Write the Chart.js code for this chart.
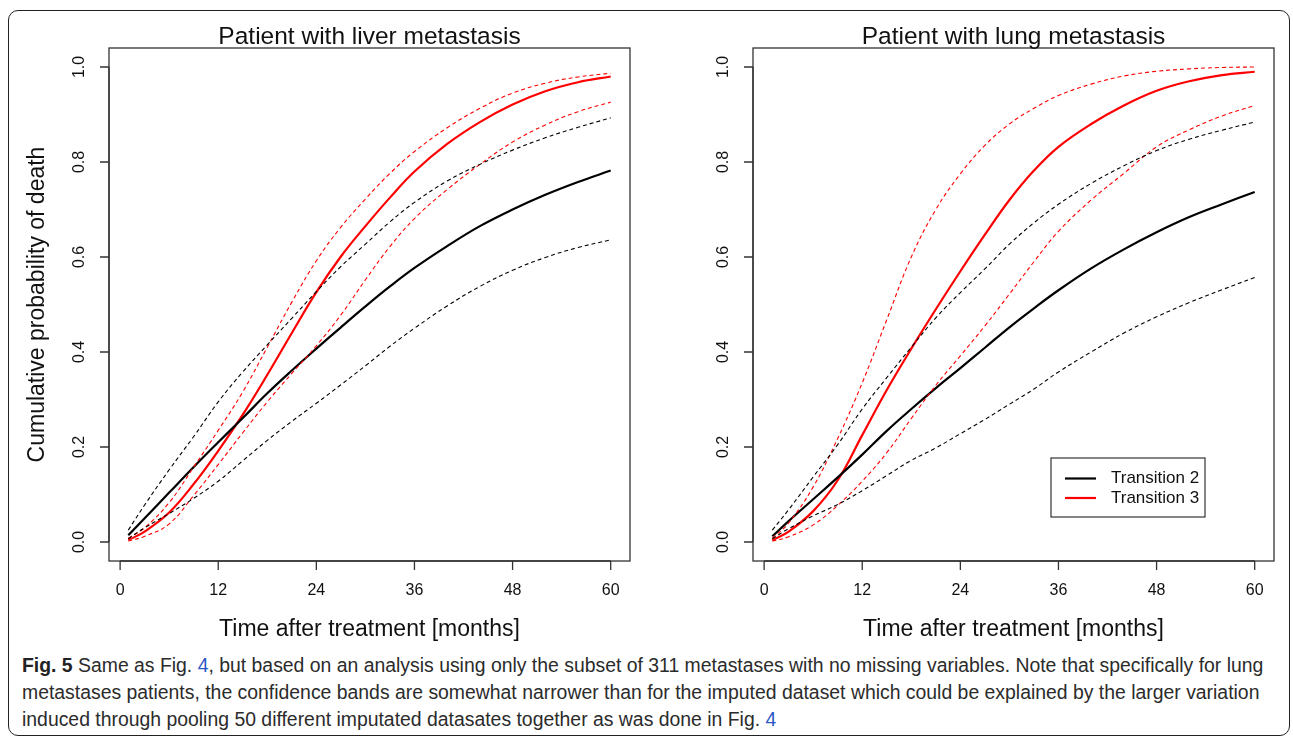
<!DOCTYPE html>
<html>
<head>
<meta charset="utf-8">
<script src="https://cdn.jsdelivr.net/npm/chart.js@4.4.1/dist/chart.umd.min.js"></script>
<style>
  body { margin: 0; background: #fff; width: 1293px; height: 738px; overflow: hidden; position: relative; }
  #frame { position: absolute; left: 8px; top: 10px; width: 1282px; height: 726px; box-sizing: border-box;
           border: 1.5px solid #222; border-radius: 10px; }
  canvas { position: absolute; top: 0; }
  #liverChart { left: 0; }
  #lungChart { left: 646px; }
  #caption { position: absolute; left: 22px; top: 652px; white-space: nowrap; color: #2b2b2b;
             font-family: "Liberation Sans", sans-serif; font-size: 19.4px; line-height: 27px; }
  #caption b { color: #222; }
  #caption .ref { color: #2a56c6; }
</style>
</head>
<body>
<div id="frame"></div>
<canvas id="liverChart" width="646" height="650"></canvas>
<canvas id="lungChart" width="647" height="650"></canvas>
<div id="caption"><b>Fig. 5</b> Same as Fig. <span class="ref">4</span>, but based on an analysis using only the subset of 311 metastases with no missing variables. Note that specifically for lung<br>metastases patients, the confidence bands are somewhat narrower than for the imputed dataset which could be explained by the larger variation<br>induced through pooling 50 different imputated datasates together as was done in Fig. <span class="ref">4</span></div>
<script>
// months after treatment
const months = [1, 3, 6, 9, 12, 15, 18, 21, 24, 27, 30, 33, 36, 40, 44, 48, 52, 56, 60];
const xTicks = [0, 12, 24, 36, 48, 60];
const yTicks = [0, 0.2, 0.4, 0.6, 0.8, 1.0];
const seriesNames = ["Transition 2", "Transition 3"];

// liver metastasis
const liverT2   = [0.014, 0.050, 0.104, 0.158, 0.210, 0.261, 0.313, 0.361, 0.407, 0.452, 0.496, 0.538, 0.577, 0.623, 0.665, 0.700, 0.731, 0.758, 0.782];
const liverT2Lo = [0.007, 0.030, 0.060, 0.092, 0.128, 0.171, 0.214, 0.254, 0.292, 0.331, 0.371, 0.412, 0.450, 0.497, 0.538, 0.572, 0.599, 0.620, 0.636];
const liverT2Hi = [0.025, 0.078, 0.152, 0.222, 0.295, 0.358, 0.415, 0.471, 0.527, 0.580, 0.627, 0.674, 0.715, 0.760, 0.795, 0.825, 0.851, 0.873, 0.893];
const liverT3   = [0.004, 0.022, 0.062, 0.122, 0.192, 0.268, 0.352, 0.440, 0.526, 0.601, 0.665, 0.725, 0.780, 0.838, 0.884, 0.921, 0.949, 0.968, 0.980];
const liverT3Lo = [0.002, 0.012, 0.038, 0.098, 0.163, 0.230, 0.295, 0.355, 0.413, 0.478, 0.552, 0.622, 0.681, 0.742, 0.795, 0.842, 0.878, 0.906, 0.926];
const liverT3Hi = [0.008, 0.030, 0.083, 0.158, 0.235, 0.316, 0.410, 0.505, 0.592, 0.663, 0.722, 0.776, 0.822, 0.872, 0.913, 0.945, 0.966, 0.979, 0.987];

// lung metastasis
const lungT2   = [0.012, 0.044, 0.090, 0.136, 0.184, 0.234, 0.280, 0.324, 0.366, 0.409, 0.452, 0.492, 0.530, 0.576, 0.616, 0.652, 0.684, 0.711, 0.737];
const lungT2Lo = [0.007, 0.028, 0.055, 0.079, 0.108, 0.140, 0.172, 0.198, 0.228, 0.258, 0.290, 0.322, 0.358, 0.400, 0.440, 0.474, 0.504, 0.531, 0.557];
const lungT2Hi = [0.025, 0.068, 0.137, 0.205, 0.280, 0.346, 0.410, 0.472, 0.525, 0.575, 0.627, 0.672, 0.711, 0.755, 0.792, 0.824, 0.848, 0.867, 0.884];
const lungT3   = [0.004, 0.022, 0.065, 0.130, 0.225, 0.320, 0.407, 0.490, 0.570, 0.647, 0.720, 0.782, 0.832, 0.880, 0.919, 0.950, 0.970, 0.983, 0.990];
const lungT3Lo = [0.002, 0.011, 0.036, 0.077, 0.128, 0.188, 0.260, 0.330, 0.392, 0.455, 0.522, 0.590, 0.654, 0.720, 0.776, 0.832, 0.868, 0.897, 0.919];
const lungT3Hi = [0.008, 0.040, 0.116, 0.218, 0.335, 0.468, 0.600, 0.700, 0.775, 0.835, 0.880, 0.913, 0.940, 0.964, 0.981, 0.991, 0.996, 0.999, 1.000];

const BLACK = "#000000";
const RED = "#ff0000";
const FONT = '"Liberation Sans", Arial, sans-serif';

function line(values, color, dashed, label) {
  return {
    label: label,
    data: months.map((m, i) => ({ x: m, y: values[i] })),
    borderColor: color,
    borderWidth: dashed ? 1.1 : 2.2,
    borderDash: dashed ? [4, 3] : [],
    pointRadius: 0,
    tension: 0.4,
    fill: false,
  };
}

// R-style box, axes, titles and legend
const rPlot = {
  id: "rPlot",
  afterDraw(chart, args, opts) {
    const ctx = chart.ctx;
    const a = chart.chartArea;
    const xs = chart.scales.x, ys = chart.scales.y;
    ctx.save();
    ctx.strokeStyle = "#333";
    ctx.fillStyle = "#111";
    ctx.lineWidth = 1.3;
    ctx.strokeRect(a.left, a.top, a.right - a.left, a.bottom - a.top);

    // x axis
    ctx.beginPath();
    ctx.moveTo(xs.getPixelForValue(xTicks[0]), a.bottom);
    ctx.lineTo(xs.getPixelForValue(xTicks[xTicks.length - 1]), a.bottom);
    xTicks.forEach(t => {
      const px = xs.getPixelForValue(t);
      ctx.moveTo(px, a.bottom);
      ctx.lineTo(px, a.bottom + 9);
    });
    ctx.stroke();
    ctx.font = "16px " + FONT;
    ctx.textAlign = "center";
    ctx.textBaseline = "middle";
    xTicks.forEach(t => ctx.fillText(String(t), xs.getPixelForValue(t), a.bottom + 30));

    // y axis
    ctx.beginPath();
    ctx.moveTo(a.left, ys.getPixelForValue(yTicks[0]));
    ctx.lineTo(a.left, ys.getPixelForValue(yTicks[yTicks.length - 1]));
    yTicks.forEach(v => {
      const py = ys.getPixelForValue(v);
      ctx.moveTo(a.left, py);
      ctx.lineTo(a.left - 9, py);
    });
    ctx.stroke();
    yTicks.forEach(v => {
      ctx.save();
      ctx.translate(a.left - 29, ys.getPixelForValue(v));
      ctx.rotate(-Math.PI / 2);
      ctx.fillText(v.toFixed(1), 0, 0);
      ctx.restore();
    });

    // titles
    const cx = (a.left + a.right) / 2;
    ctx.font = "24.5px " + FONT;
    ctx.fillText(opts.title, cx, 37);
    ctx.font = "23px " + FONT;
    ctx.fillText("Time after treatment [months]", cx, a.bottom + 69);
    if (opts.yTitle) {
      ctx.save();
      ctx.translate(38, (a.top + a.bottom) / 2);
      ctx.rotate(-Math.PI / 2);
      ctx.fillText(opts.yTitle, 0, 0);
      ctx.restore();
    }

    // legend
    if (opts.legend) {
      const w = 154, h = 59;
      const lx = a.right - 69 - w, ly = a.bottom - 44 - h;
      ctx.fillStyle = "#fff";
      ctx.fillRect(lx, ly, w, h);
      ctx.strokeStyle = "#333";
      ctx.lineWidth = 1.2;
      ctx.strokeRect(lx, ly, w, h);
      ctx.font = "17px " + FONT;
      ctx.textAlign = "left";
      [BLACK, RED].forEach((c, i) => {
        const y = ly + 20.5 + i * 19.5;
        ctx.strokeStyle = c;
        ctx.lineWidth = 2.2;
        ctx.beginPath();
        ctx.moveTo(lx + 14, y);
        ctx.lineTo(lx + 45, y);
        ctx.stroke();
        ctx.fillStyle = "#111";
        ctx.fillText(seriesNames[i], lx + 60, y);
      });
    }
    ctx.restore();
  },
};

function makeChart(id, sets, padding, opts) {
  return new Chart(document.getElementById(id).getContext("2d"), {
    type: "line",
    data: {
      datasets: [
        line(sets.t2Lo, BLACK, true), line(sets.t2Hi, BLACK, true),
        line(sets.t3Lo, RED, true), line(sets.t3Hi, RED, true),
        line(sets.t2, BLACK, false, seriesNames[0]),
        line(sets.t3, RED, false, seriesNames[1]),
      ],
    },
    options: {
      responsive: false,
      animation: false,
      layout: { padding: padding },
      plugins: { legend: { display: false }, tooltip: { enabled: false }, rPlot: opts },
      scales: {
        x: { type: "linear", min: -1.36, max: 62.36, display: false },
        y: { type: "linear", min: -0.04, max: 1.04, display: false },
      },
    },
    plugins: [rPlot],
  });
}

makeChart("liverChart",
  { t2: liverT2, t2Lo: liverT2Lo, t2Hi: liverT2Hi, t3: liverT3, t3Lo: liverT3Lo, t3Hi: liverT3Hi },
  { left: 109, right: 16, top: 48, bottom: 89 },
  { title: "Patient with liver metastasis", yTitle: "Cumulative probability of death", legend: false });

makeChart("lungChart",
  { t2: lungT2, t2Lo: lungT2Lo, t2Hi: lungT2Hi, t3: lungT3, t3Lo: lungT3Lo, t3Hi: lungT3Hi },
  { left: 107, right: 19, top: 48, bottom: 89 },
  { title: "Patient with lung metastasis", legend: true });
</script>
</body>
</html>
